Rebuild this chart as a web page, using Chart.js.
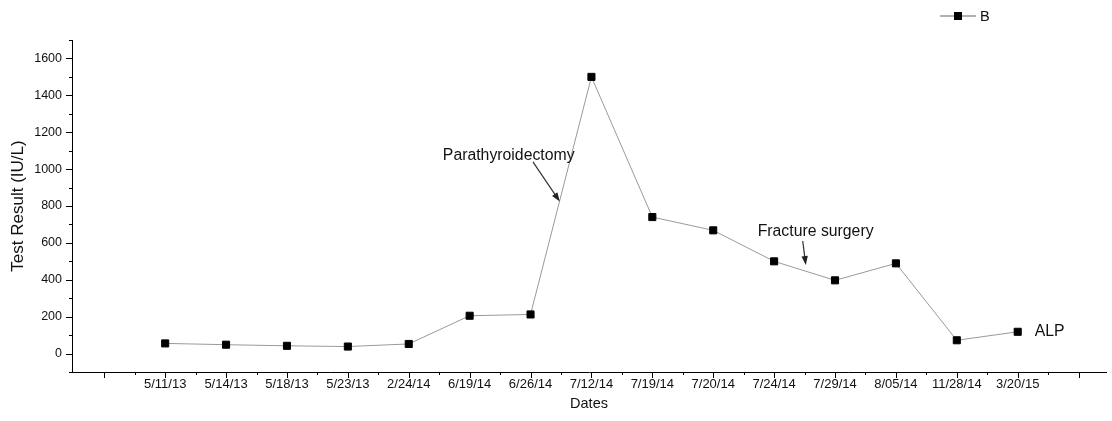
<!DOCTYPE html>
<html>
<head>
<meta charset="utf-8">
<script src="https://cdn.jsdelivr.net/npm/chart.js@4"></script>
<style>
  html, body { margin: 0; padding: 0; background: #fff; }
  #wrap { width: 1112px; height: 421px; position: relative; }
</style>
</head>
<body>
<div id="wrap"><canvas id="c" width="1112" height="421"></canvas></div>
<script>
// ---- data ----
const dates = ['5/11/13','5/14/13','5/18/13','5/23/13','2/24/14','6/19/14','6/26/14','7/12/14','7/19/14','7/20/14','7/24/14','7/29/14','8/05/14','11/28/14','3/20/15'];
const alpValues = [55, 48, 42, 38, 52, 205, 212, 1500, 740, 668, 500, 397, 489, 72, 118];
const seriesLabel = 'B';
const yTickValues = [0, 200, 400, 600, 800, 1000, 1200, 1400, 1600];
// annotations: [text, textX(index), textY(value), arrowFromX, arrowFromY, arrowToX, arrowToY]
const annotations = [
  ['Parathyroidectomy', 5.56, 1074, 7.04, 1039, 7.48, 824],
  ['Fracture surgery', 10.73, 659, 11.47, 610, 11.52, 480],
  ['ALP', 15.28, 119, null, null, null, null]
];

const points = dates.map((d, i) => ({ x: i + 1, y: alpValues[i] }));
const FONT = 'Arial, "Liberation Sans", sans-serif';

const overlay = {
  id: 'overlay',
  afterDraw(chart) {
    const ctx = chart.ctx;
    const xs = chart.scales.x, ys = chart.scales.y;
    const bottom = chart.chartArea.bottom, left = chart.chartArea.left;
    ctx.save();
    ctx.strokeStyle = '#000';
    ctx.lineWidth = 1;
    // x ticks (major at integers, minor at halves)
    for (let v = 0; v <= 16; v += 0.5) {
      const px = Math.round(xs.getPixelForValue(v)) + 0.5;
      const len = Number.isInteger(v) ? 6 : 3;
      ctx.beginPath(); ctx.moveTo(px, bottom); ctx.lineTo(px, bottom + len); ctx.stroke();
    }
    // y ticks
    for (let v = -100; v <= 1700; v += 100) {
      const py = Math.round(ys.getPixelForValue(v)) + 0.5;
      const len = (v % 200 === 0) ? 6 : 3;
      ctx.beginPath(); ctx.moveTo(left, py); ctx.lineTo(left - len, py); ctx.stroke();
    }
    // annotations
    ctx.fillStyle = '#111';
    ctx.font = '15.8px ' + FONT;
    ctx.textAlign = 'left';
    ctx.textBaseline = 'middle';
    annotations.forEach(a => {
      ctx.fillText(a[0], xs.getPixelForValue(a[1]), ys.getPixelForValue(a[2]));
      if (a[3] !== null) {
        const x1 = xs.getPixelForValue(a[3]), y1 = ys.getPixelForValue(a[4]);
        const x2 = xs.getPixelForValue(a[5]), y2 = ys.getPixelForValue(a[6]);
        const ang = Math.atan2(y2 - y1, x2 - x1);
        const hl = 9, hw = 3.2;
        ctx.strokeStyle = '#333';
        ctx.lineWidth = 1.2;
        ctx.beginPath(); ctx.moveTo(x1, y1);
        ctx.lineTo(x2 - Math.cos(ang) * hl * 0.8, y2 - Math.sin(ang) * hl * 0.8); ctx.stroke();
        ctx.fillStyle = '#222';
        ctx.beginPath();
        ctx.moveTo(x2, y2);
        ctx.lineTo(x2 - Math.cos(ang) * hl - Math.sin(ang) * hw, y2 - Math.sin(ang) * hl + Math.cos(ang) * hw);
        ctx.lineTo(x2 - Math.cos(ang) * hl + Math.sin(ang) * hw, y2 - Math.sin(ang) * hl - Math.cos(ang) * hw);
        ctx.closePath(); ctx.fill();
        ctx.fillStyle = '#111';
      }
    });
    // legend
    const ds = chart.data.datasets[0];
    const ly = 16;
    ctx.strokeStyle = '#999';
    ctx.lineWidth = 1.5;
    ctx.beginPath(); ctx.moveTo(940, ly); ctx.lineTo(976, ly); ctx.stroke();
    ctx.fillStyle = '#000';
    ctx.fillRect(954, ly - 4, 8, 8);
    ctx.font = '14.5px ' + FONT;
    ctx.fillStyle = '#111';
    ctx.fillText(ds.label, 980, ly + 1);
    ctx.restore();
  }
};

new Chart(document.getElementById('c'), {
  type: 'line',
  data: {
    datasets: [{
      label: seriesLabel,
      data: points,
      borderColor: '#999',
      borderWidth: 1,
      pointStyle: 'rect',
      pointRadius: 5,
      pointBackgroundColor: '#000',
      pointBorderColor: '#000',
      pointBorderWidth: 1,
      tension: 0
    }]
  },
  options: {
    responsive: false,
    animation: false,
    events: [],
    layout: { padding: { top: 40, right: 5, left: 0, bottom: 0 } },
    plugins: { legend: { display: false }, tooltip: { enabled: false } },
    scales: {
      x: {
        type: 'linear',
        min: -0.53,
        max: 16.45,
        afterFit(s) { s.height = 49; },
        afterBuildTicks(s) {
          const t = [];
          for (let v = 0; v <= 16; v++) t.push({ value: v });
          s.ticks = t;
        },
        grid: { drawOnChartArea: false, drawTicks: true, tickLength: 5, tickColor: 'rgba(0,0,0,0)' },
        border: { display: true, color: '#000', width: 1 },
        ticks: {
          autoSkip: false, maxRotation: 0, padding: 0,
          color: '#111',
          font: { size: 13, family: FONT },
          callback: (v) => (Number.isInteger(v) && v >= 1 && v <= dates.length) ? dates[v - 1] : ''
        },
        title: { display: true, text: 'Dates', color: '#111', font: { size: 14.5, family: FONT }, padding: { top: 0, bottom: 8 } }
      },
      y: {
        min: -100,
        max: 1700,
        afterFit(s) { s.width = 72; },
        afterBuildTicks(s) { s.ticks = yTickValues.map(v => ({ value: v })); },
        grid: { drawOnChartArea: false, drawTicks: true, tickLength: 6, tickColor: 'rgba(0,0,0,0)' },
        border: { display: true, color: '#000', width: 1 },
        ticks: {
          padding: 4,
          color: '#111',
          font: { size: 12.5, family: FONT },
          callback: (v) => String(v)
        },
        title: { display: true, text: 'Test Result (IU/L)', color: '#111', font: { size: 17, family: FONT }, padding: { top: 8, bottom: 0 } }
      }
    }
  },
  plugins: [overlay]
});
</script>
</body>
</html>
